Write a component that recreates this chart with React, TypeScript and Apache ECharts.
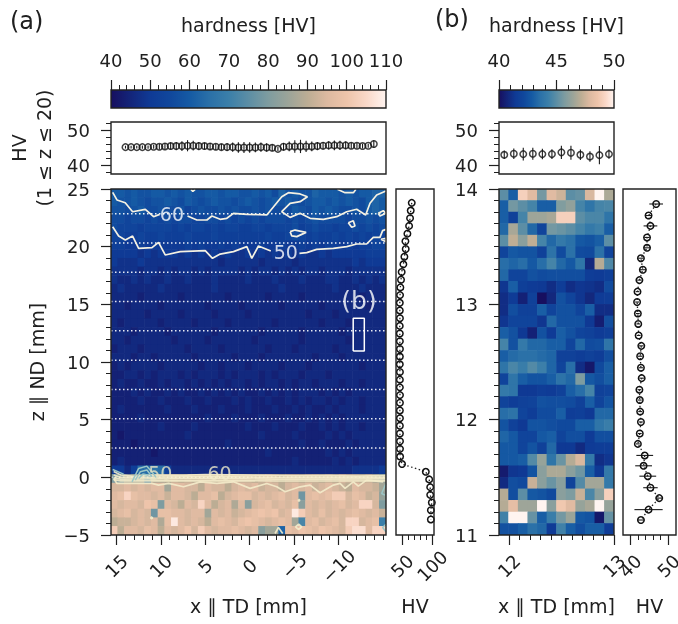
import React, { useEffect, useRef } from "react";
import * as echarts from "echarts";

const INK = "#202020";
const FONT = "DejaVu Sans";
// Evenly spaced along the colour scale.
const COLORS = ["#170f5f", "#13257a", "#0f3a95", "#10479c", "#155aa4", "#2a70a8", "#3b7fa9", "#5c8ea5", "#7e9ca0", "#9ba499", "#bcad94", "#dcb9a0", "#eec4aa", "#fad8c8", "#fff4f0"];

// Panel (a) hardness map: one character per cell, base 36, HV = 40 + 2 * digit. Top row first.
const mapRowsA = [
  "aa9a99aa9a 9a99aa9aa9 9a9a8b9a99 baaa9a9aab b",
  "a99a9899a9 8a989a9989 a989a9a989 aa9a9a98ab a",
  "9989a88988 9789889898 8989888a98 a9a98898ab a",
  "8878878787 8877887878 7878887878 9888878898 9",
  "8777677776 7677676776 6776777867 8776778787 8",
  "7766766766 6766676666 6667667876 7667676767 7",
  "6655656555 5656556565 5565565565 6566565667 7",
  "5555454555 4545454544 5454545454 4545555566 6",
  "5444544444 4444443444 4434444344 4444445455 5",
  "4444344343 4434344443 4344343434 4344434444 4",
  "4334343343 3433343333 4333433343 3344334343 4",
  "3433333433 3333343333 3333343333 3334333433 3",
  "3333233333 2333333233 3332333323 3333333233 3",
  "3323333233 3333233332 3333323333 3233333323 3",
  "3333323333 2333323333 2333333332 3332333333 3",
  "3233333233 3323333233 3333233333 3233323333 3",
  "3332333323 3333323333 3323333323 3333233333 3",
  "3323333332 3333233333 3233333323 3333323333 3",
  "2333233333 3233332333 3332333233 3332333333 3",
  "3332332333 3323333323 3323333333 2333233333 3",
  "2323333233 3332332333 2333323332 3333333233 3",
  "2233232333 2323332323 3323233323 3323333333 3",
  "2322322323 3232323233 2323323233 2333233233 3",
  "2223232232 3223232323 2232323233 3232323333 3",
  "2222322322 2322322232 3223223232 3323233233 3",
  "2322222232 2232223222 3222322323 2232333233 3",
  "2222322222 2222322232 2232223223 2323233333 3",
  "2222222322 2232222222 3222322232 2323233233 3",
  "2122222222 2322222222 2232222322 2232323333 3",
  "2221222222 2222222322 2222222232 2322232333 3",
  "2222221222 2222222222 2223222222 2232323333 3",
  "2322222222 2222222222 2222222322 2223232333 3",
  "5536ccdc63 3333333333 3333333333 3333334444 5",
  "kknnngoopq pqpqqpqqrq qpqrqpqqpq qpqprqqpqo m",
  "rrsrsrssns srrpsrrprs rsqrrprsrs qrsrqpsrrq n",
  "stwtssrsqs srpsstprst trsrstrsjs tstvvrtsqr m",
  "srssrutksr psrwsprsos lrstrsrtls rsrstrswwr k",
  "rstrsrjtts srssnsrsqr stutursyvs rtrsrstsrs q",
  "pqqrsrsoty srsrpstsrt utsrstsngs trstrwwrst f",
  "vpssrtspsr survsrssts rslnnbtsut sutsrvxxsw w",
];

// Panel (b) hardness map, top row first.
const mapRowsB = [
  [45, 43, 49, 48, 45.5, 48, 47.5, 45, 45.2, 47.8, 50, 46.8],
  [43, 45.5, 45, 44.5, 43, 43, 45.8, 46.2, 44.5, 43.8, 44.5, 44.6],
  [43, 41.8, 44.5, 46.5, 46.5, 46.7, 49, 49, 45, 44.6, 44.6, 43.8],
  [43.3, 46.7, 45, 43.3, 42, 45.5, 45.3, 45, 44.5, 44, 44.3, 43],
  [45, 47.2, 46, 47.2, 44.5, 43.3, 44, 43.6, 42.8, 42.6, 43, 45],
  [42, 42.8, 42.6, 42.6, 41.8, 43.7, 42.3, 43.6, 42.3, 42.2, 43.6, 42],
  [43.5, 43.2, 43.5, 42.8, 43.5, 44.5, 43.3, 42.8, 43.8, 40.8, 47, 44.7],
  [43.3, 42, 42, 42.5, 42.3, 42.4, 42.4, 42.4, 42.4, 41.6, 41.5, 41.7],
  [41.3, 43, 41.7, 41.5, 41.4, 41, 41.6, 41, 41.3, 41.2, 41, 42.3],
  [41, 41.5, 40.6, 41.8, 40, 40.8, 42.5, 42, 41.3, 40.8, 41.5, 41.6],
  [41, 42.4, 41.8, 41.8, 43, 42, 42.5, 42.5, 42, 43, 41, 41],
  [41.3, 42, 42, 42, 41.3, 43.3, 42.5, 42.5, 42.5, 41.4, 40.5, 42.4],
  [43, 42.5, 41.4, 40.6, 42.5, 41.5, 43, 42.5, 42, 41.8, 41.5, 41.7],
  [44.5, 42.5, 44, 43.3, 43.3, 43, 43, 42, 43.3, 42.3, 42.4, 43.8],
  [43, 43.4, 43.6, 43.6, 43.4, 43.2, 41.8, 41.8, 41.6, 41.8, 41.6, 42.4],
  [43.8, 44.6, 44.2, 44.8, 44.3, 43.2, 42, 43.5, 41, 40.3, 42.2, 43],
  [42, 43.8, 43, 42.6, 42.6, 43, 43.7, 43.3, 45.7, 42.8, 42.4, 43],
  [44, 43.8, 41.4, 41.4, 41.6, 41.5, 41.8, 43, 43.5, 44.5, 41.8, 42],
  [41.9, 41.6, 41.8, 41.9, 42.5, 42.4, 42.4, 42.3, 41.8, 43, 41.9, 42.6],
  [43.5, 43.7, 42, 41.6, 42.3, 42.3, 43, 41.6, 41.7, 41.4, 43.3, 43.3],
  [42.6, 41.8, 41.4, 42.6, 42.6, 42.4, 42.2, 42.2, 43, 43, 43.8, 44.2],
  [43.2, 42.8, 42, 42, 42.8, 43, 41.9, 42.4, 42.4, 41.5, 42.4, 42.4],
  [42.8, 42.8, 42, 42.6, 41.8, 43.3, 41.4, 41.4, 40.9, 41.5, 41.6, 41.6],
  [42.8, 42.8, 43, 44.8, 46.3, 43.8, 45.3, 47, 47.8, 44, 41, 41.3],
  [40.4, 41.3, 41.4, 42.6, 46, 46.8, 46.8, 46, 45.4, 43, 41.4, 44],
  [40.9, 42.4, 42.2, 47.4, 46, 45.3, 46, 41.9, 44.8, 46.6, 46.6, 44],
  [47, 42.4, 45, 42.8, 42.6, 42.2, 46, 45.7, 47.4, 44.6, 46, 49],
  [47, 48.2, 46.5, 46.5, 50, 46, 48.7, 48, 46.3, 46.7, 50, 46.3],
  [44.4, 50, 50, 45.2, 43, 44.2, 45.5, 46.4, 42.8, 42.6, 40.3, 45.2],
  [42.5, 42.5, 43, 43.6, 43.3, 41.5, 44.4, 43, 42.4, 43, 43, 41.6],
];

// Mean hardness over 1 <= z <= 20, panel (a)
const stripAx = [13.97, 13.34, 12.7, 12.07, 11.43, 10.8, 10.16, 9.53, 8.89, 8.26, 7.62, 6.99, 6.35, 5.72, 5.08, 4.45, 3.81, 3.18, 2.54, 1.91, 1.27, 0.64, 0, -0.64, -1.27, -1.91, -2.54, -3.18, -3.81, -4.45, -5.08, -5.72, -6.35, -6.99, -7.62, -8.26, -8.89, -9.53, -10.16, -10.8, -11.43, -12.07, -12.7, -13.34, -13.97];
const stripAhv = [45.3, 45.3, 45.3, 45.3, 45.3, 45.4, 45.4, 45.5, 45.6, 45.6, 45.6, 45.7, 45.7, 45.6, 45.6, 45.5, 45.4, 45.3, 45.3, 45.3, 45.2, 45.2, 45.2, 45.2, 45.3, 45.2, 45.1, 44.8, 45.4, 45.5, 45.5, 45.5, 45.5, 45.5, 45.6, 45.7, 45.8, 45.8, 45.8, 45.8, 45.7, 45.7, 45.6, 45.7, 46.2];
const stripAerr = [0.4, 0.4, 0.4, 0.5, 0.5, 0.6, 0.8, 0.9, 1, 1.2, 1.4, 1.6, 1.4, 1.2, 1, 1, 0.9, 0.9, 1.1, 1.3, 1.5, 1.6, 1.5, 1.4, 1.3, 1.2, 1, 0.6, 1.1, 1.4, 1.8, 1.9, 1.6, 1.4, 1.2, 1.1, 1.2, 1.4, 1.3, 1.1, 0.9, 0.8, 0.7, 0.6, 1.1];

// Mean hardness, panel (b)
const stripBx = [11.955, 12.046, 12.136, 12.227, 12.318, 12.409, 12.499, 12.59, 12.68, 12.771, 12.861, 12.952];
const stripBhv = [43.1, 43.4, 43.3, 43.4, 43.3, 43.3, 43.8, 43.7, 43.1, 42.6, 43, 43.3];
const stripBerr = [1.2, 1.5, 1.8, 1.7, 1.5, 1.4, 1.9, 2, 1.5, 1.5, 2.6, 1.3];

// Depth profiles
const sideAz = [23.8, 23.13, 22.47, 21.8, 21.13, 20.47, 19.8, 19.13, 18.47, 17.8, 17.13, 16.47, 15.8, 15.13, 14.47, 13.8, 13.13, 12.47, 11.8, 11.13, 10.47, 9.8, 9.13, 8.47, 7.8, 7.13, 6.47, 5.8, 5.13, 4.47, 3.8, 3.13, 2.47, 1.8, 1.15, 0.48, -0.18, -0.85, -1.52, -2.18, -2.85, -3.65];
const sideAhv = [66.1, 64.4, 63.3, 61.7, 58.9, 55.6, 56.1, 53.9, 52.2, 49.4, 48.3, 47.2, 46.7, 46.3, 46.3, 46.5, 46.2, 46.3, 46.4, 46.5, 46.4, 46.3, 46.5, 46.4, 46.4, 46.6, 46.5, 46.4, 46.5, 46.4, 46.5, 46.6, 46.6, 46.8, 50, 89.4, 95, 96.7, 96.7, 99.4, 97.8, 97.8];
const sideBz = [13.87, 13.77, 13.68, 13.58, 13.49, 13.4, 13.3, 13.21, 13.11, 13.02, 12.92, 12.83, 12.73, 12.64, 12.55, 12.45, 12.36, 12.26, 12.17, 12.07, 11.98, 11.88, 11.79, 11.69, 11.6, 11.51, 11.41, 11.32, 11.22, 11.13];
const sideBhv = [46.8, 44.8, 45.3, 44.4, 44.4, 42.8, 43.3, 42.4, 41.9, 41.8, 42, 42.1, 42.2, 42.9, 42.6, 42.8, 43, 42.4, 42.5, 42.6, 42.8, 42.5, 42, 43.8, 43.5, 44.6, 45.3, 47.6, 44.8, 42.8];
const sideBerr = [1.8, 0.7, 1.8, 0.7, 0.8, 0.7, 0.9, 0.6, 0.5, 0.5, 0.5, 0.5, 0.5, 0.6, 0.6, 0.6, 0.6, 0.5, 0.5, 0.5, 0.5, 0.5, 0.5, 2.2, 2.2, 2.2, 1.9, 0.9, 3.7, 0.9];

// Contours of panel (a), [x mm, z mm]
const contoursUpper = [
  [[15.41, 24.71], [14.93, 24.05], [14, 23.81], [13.17, 23.03], [11.74, 23.24], [10.81, 22.6], [10.13, 22.8]],
  [[6.99, 22.66], [5.94, 22.31], [4.81, 22.31], [4.25, 22.66], [3.32, 22.37], [2.57, 22.46], [1.82, 22.89], [0.32, 22.8], [-1.93, 22.75], [-3.61, 24.33], [-4.36, 24.68], [-5.67, 24.57], [-6.5, 24.33], [-5.67, 23.9], [-4.55, 23.76], [-3.61, 23.03], [-4.55, 22.54], [-5.67, 22.89], [-6.8, 22.46], [-8.29, 22.37], [-9.79, 22.6], [-10.92, 23.03], [-12.04, 23.24], [-13.05, 22.75], [-13.54, 23.76], [-14.29, 24.48], [-15.33, 24.83]],
  [[6.61, 24.97], [6.39, 24.8], [6.13, 24.97]],
  [[-9.87, 24.97], [-10.73, 24.68], [-11.67, 24.68], [-11.96, 24.97]],
  [[-14.47, 22.89], [-15.03, 23.12], [-15.33, 22.89], [-14.66, 22.66], [-14.47, 22.89]],
  [[-11.1, 22.08], [-11.66, 22.25], [-11.85, 21.79], [-11.48, 21.68], [-11.1, 22.08]],
  [[-4.55, 21.3], [-5.11, 21.44], [-6.35, 21.24], [-5.3, 20.87], [-4.74, 20.93], [-4.55, 21.3]],
  [[15.41, 21.73], [14.74, 20.92], [13.99, 20.58], [13.17, 20.92], [12.49, 19.86], [10.99, 19.91], [10.25, 20.38], [9.5, 19.28], [7.81, 19.57], [5, 19.65], [4.18, 18.99], [3.32, 19.36], [1.82, 19.57], [0.32, 20], [-0.24, 18.99], [-0.99, 20.06], [-2.38, 19.62]],
  [[-5.6, 19.42], [-6.42, 19.48], [-7.54, 19.77], [-9.42, 19.86], [-10.92, 20], [-12.04, 20.23], [-13.16, 20.23], [-13.91, 20.81], [-14.66, 20.81], [-14.96, 21.39], [-15.33, 21.5]],
  [[-14.77, 20.64], [-15.33, 20.72], [-15.33, 20.43], [-14.77, 20.64]],
];
const contoursInterface = [
  [[15.3, -0.1], [14.93, -0.53], [13.05, -0.53], [11, -0.53], [10.25, -0.67], [9.12, -0.53], [7.44, -0.82], [5.56, -0.39], [3.69, -0.53], [1.82, -0.39], [-0.05, -0.96], [-1.93, -0.53], [-3.05, -0.82], [-3.99, -1.25], [-5.67, -0.82], [-6.8, -0.67], [-7.92, -1.34], [-9.42, -0.67], [-10.17, -0.53], [-10.73, -0.96], [-11.66, -0.39], [-12.23, -0.76], [-13.16, -0.24], [-15.03, -0.39]],
  [[15.3, 0.5], [14.5, 0.2], [13, 0.08], [11, 0.2], [9, 0.18], [7, 0.2], [5, 0.24], [2, 0.22], [-1, 0.18], [-5, 0.12], [-9, 0.14], [-12, 0.1], [-15.3, 0.15]],
  [[15.3, 0.2], [14.5, 0], [11, 0.02], [7, 0.04], [2, 0.04], [-3, 0], [-8, -0.02], [-15.3, 0]],
  [[15.3, -0.05], [14.5, -0.16], [11, -0.14], [7, -0.12], [2, -0.12], [-3, -0.16], [-8, -0.16], [-15.3, -0.14]],
  [[15.3, -0.2], [14.5, -0.3], [11, -0.3], [7, -0.3], [2, -0.28], [-3, -0.32], [-8, -0.32], [-15.3, -0.3]],
  [[-2.86, -4.87], [-3.24, -4.35], [-3.72, -4.87]],
  [[-5.15, -4.29], [-5.52, -4.06], [-5.86, -4.29], [-5.52, -4.52], [-5.15, -4.29]],
  [[-5.5, -1.9], [-5.65, -2], [-5.5, -2.08], [-5.5, -1.9]],
  [[11.1, -3.42], [10.9, -3.52], [11.1, -3.6], [11.1, -3.42]],
];
const contoursTeal = [
  [[13.24, -0.39], [12.49, 0.77], [11.56, 0.97], [10.81, 0.28], [10.43, -0.1]],
  [[12.87, -0.24], [12.31, 0.48], [11.56, 0.63], [10.99, 0.05]],
  [[12.49, -0.1], [12.01, 0.28], [11.37, 0.19]],
  [[15.41, 0.68], [14.18, 0.28]],
  [[-15.33, -0.53], [-14.85, -1.4], [-15.22, -1.54]],
  [[-15.33, -4.06], [-14.96, -4.35], [-15.33, -4.72]],
];
const scanLinesZ = [22.86, 20.32, 17.78, 15.24, 12.7, 10.16, 7.62, 5.08, 2.54, 0];
const regionB = [[-11.65, 10.95], [-12.9, 10.95], [-12.9, 13.8], [-11.65, 13.8], [-11.65, 10.95]];

// Ticks
const cbATicks = [40, 50, 60, 70, 80, 90, 100, 110];
const cbAMinor = [42, 44, 46, 48, 52, 54, 56, 58, 62, 64, 66, 68, 72, 74, 76, 78, 82, 84, 86, 88, 92, 94, 96, 98, 102, 104, 106, 108];
const cbBTicks = [40, 45, 50];
const cbBMinor = [41, 42, 43, 44, 46, 47, 48, 49];
const stripTicks = [40, 50];
const stripMinor = [38, 42, 44, 46, 48, 52];
const xATicks = [15, 10, 5, 0, -5, -10];
const xAMinor = [14, 13, 12, 11, 9, 8, 7, 6, 4, 3, 2, 1, -1, -2, -3, -4, -6, -7, -8, -9, -11, -12, -13, -14, -15];
const zATicks = [-5, 0, 5, 10, 15, 20, 25];
const zAMinor = [-4, -3, -2, -1, 1, 2, 3, 4, 6, 7, 8, 9, 11, 12, 13, 14, 16, 17, 18, 19, 21, 22, 23, 24];
const sideATicks = [50, 100];
const sideAMinor = [60, 70, 80, 90];
const xBTicks = [12, 13];
const xBMinor = [12.1, 12.2, 12.3, 12.4, 12.5, 12.6, 12.7, 12.8, 12.9];
const zBTicks = [11, 12, 13, 14];
const zBMinor = [11.1, 11.2, 11.3, 11.4, 11.5, 11.6, 11.7, 11.8, 11.9, 12.1, 12.2, 12.3, 12.4, 12.5, 12.6, 12.7, 12.8, 12.9, 13.1, 13.2, 13.3, 13.4, 13.5, 13.6, 13.7, 13.8, 13.9];
const sideBTicks = [40, 50];
const sideBMinor = [42, 44, 46, 48];

const fmt = (v: number) => String(v).replace("-", "\u2212");

function buildOption() {
  const grid: any[] = [];
  const xAxis: any[] = [];
  const yAxis: any[] = [];
  const series: any[] = [];
  const visualMap: any[] = [];

  const textStyle = (size = 18) => ({ color: INK, fontFamily: FONT, fontSize: size });

  function axisPair(list: any[], cfg: any, gridIndex: number) {
    const base = {
      gridIndex,
      type: "value",
      min: cfg.min,
      max: cfg.max,
      inverse: !!cfg.inverse,
      position: cfg.position,
      splitLine: { show: false },
      axisLine: { show: false, onZero: false },
    };
    const index = list.length;
    list.push({
      ...base,
      name: cfg.name,
      nameLocation: "middle",
      nameGap: cfg.nameGap,
      nameRotate: cfg.nameRotate,
      nameTextStyle: { ...textStyle(cfg.nameSize || 19), lineHeight: 25 },
      axisTick: cfg.ticks
        ? { show: true, customValues: cfg.ticks, length: cfg.tickLen ?? 10, lineStyle: { color: INK, width: 1.2 } }
        : { show: false },
      axisLabel: cfg.ticks && !cfg.noLabel
        ? {
            show: true,
            customValues: cfg.ticks,
            formatter: fmt,
            margin: cfg.margin ?? 21,
            rotate: cfg.rotate || 0,
            ...(cfg.rotate ? { align: "center", verticalAlign: "middle" } : {}),
            ...textStyle(18),
          }
        : { show: false },
    });
    if (cfg.minor) {
      list.push({
        ...base,
        axisTick: { show: true, customValues: cfg.minor, length: 5, lineStyle: { color: INK, width: 1 } },
        axisLabel: { show: false },
      });
    }
    return index;
  }

  function panel(box: number[], xCfg: any, yCfg: any) {
    const gridIndex = grid.length;
    grid.push({ left: box[0], top: box[1], width: box[2] - box[0], height: box[3] - box[1], show: false, outerBoundsMode: "none" });
    const xi = axisPair(xAxis, { position: "bottom", ...xCfg }, gridIndex);
    const yi = axisPair(yAxis, { position: "left", ...yCfg }, gridIndex);
    return { xAxisIndex: xi, yAxisIndex: yi };
  }

  function frame(ax: any) {
    series.push({
      type: "custom",
      ...ax,
      z: 20,
      silent: true,
      clip: false,
      data: [[0, 0]],
      renderItem: (params: any) => ({
        type: "rect",
        shape: { x: params.coordSys.x, y: params.coordSys.y, width: params.coordSys.width, height: params.coordSys.height },
        style: { fill: "none", stroke: "#222222", lineWidth: 1.4 },
      }),
    });
  }

  function colorbar(ax: any, lo: number, hi: number) {
    const gradient = new echarts.graphic.LinearGradient(0, 0, 1, 0, COLORS.map((color, i) => ({ offset: i / (COLORS.length - 1), color })));
    series.push({
      type: "custom",
      ...ax,
      silent: true,
      data: [[lo, 0, hi, 1]],
      renderItem: (_: any, api: any) => {
        const a = api.coord([api.value(0), api.value(1)]);
        const b = api.coord([api.value(2), api.value(3)]);
        return {
          type: "rect",
          shape: { x: a[0], y: b[1], width: b[0] - a[0], height: a[1] - b[1] },
          style: { fill: gradient },
        };
      },
    });
    frame(ax);
  }

  function cells(ax: any, data: number[][], dx: number, dz: number, lo: number, hi: number) {
    series.push({
      type: "custom",
      ...ax,
      silent: true,
      clip: true,
      data,
      renderItem: (_: any, api: any) => {
        const a = api.coord([api.value(0) - dx / 2, api.value(1) + dz / 2]);
        const b = api.coord([api.value(0) + dx / 2, api.value(1) - dz / 2]);
        return {
          type: "rect",
          shape: {
            x: Math.min(a[0], b[0]) - 0.3,
            y: a[1] - 0.3,
            width: Math.abs(b[0] - a[0]) + 0.6,
            height: b[1] - a[1] + 0.6,
          },
          style: { fill: api.visual("color") },
        };
      },
    });
    visualMap.push({
      type: "continuous",
      show: false,
      min: lo,
      max: hi,
      dimension: 2,
      seriesIndex: series.length - 1,
      inRange: { color: COLORS },
    });
  }

  function errorBars(ax: any, data: number[][], horizontal: boolean) {
    series.push({
      type: "custom",
      ...ax,
      silent: true,
      z: 4,
      data,
      renderItem: (_: any, api: any) => {
        const x = api.value(0), y = api.value(1), e = api.value(2);
        const a = horizontal ? api.coord([x - e, y]) : api.coord([x, y - e]);
        const b = horizontal ? api.coord([x + e, y]) : api.coord([x, y + e]);
        return {
          type: "line",
          shape: { x1: a[0], y1: a[1], x2: b[0], y2: b[1] },
          style: { stroke: "#1a1a1a", lineWidth: 1.1 },
        };
      },
    });
  }

  function markers(ax: any, data: number[][], joined: boolean) {
    series.push({
      type: joined ? "line" : "scatter",
      ...ax,
      z: 5,
      silent: true,
      data,
      symbol: "circle",
      symbolSize: 6.5,
      itemStyle: { color: "rgba(255,255,255,0)", borderColor: "#111111", borderWidth: 1.5 },
      ...(joined ? { showSymbol: true, lineStyle: { color: "#222222", width: 1.3, type: [1.5, 2.5] } } : {}),
    });
  }

  function polyline(ax: any, data: number[][], color: string, width: number, type: any = "solid", z = 6) {
    series.push({
      type: "line",
      ...ax,
      z,
      silent: true,
      data,
      symbol: "none",
      clip: true,
      lineStyle: { color, width, type },
    });
  }

  function label(ax: any, at: number[], text: string, size: number, color: string) {
    series.push({
      type: "scatter",
      ...ax,
      z: 7,
      silent: true,
      data: [at],
      symbolSize: 1,
      itemStyle: { color: "rgba(0,0,0,0)" },
      label: { show: true, position: "inside", formatter: text, color, fontFamily: FONT, fontSize: size },
    });
  }

  // Panel (a)
  const cbA = panel([111, 90, 386, 108],
    { min: 40, max: 110, position: "top", ticks: cbATicks, minor: cbAMinor, margin: 21, name: "hardness [HV]", nameGap: 53 },
    { min: 0, max: 1 });
  colorbar(cbA, 40, 110);

  const xRangeA = { min: -15.34, max: 15.6, inverse: true };
  const stripA = panel([111, 122, 386, 174], xRangeA,
    { min: 37.6, max: 52.5, ticks: stripTicks, minor: stripMinor, name: "HV\n(1 \u2264 z \u2264 20)", nameRotate: 90, nameGap: 55 });
  errorBars(stripA, stripAx.map((x, i) => [x, stripAhv[i], stripAerr[i]]), false);
  markers(stripA, stripAx.map((x, i) => [x, stripAhv[i]]), false);
  frame(stripA);

  const heatA = panel([111, 189, 386, 535],
    { ...xRangeA, ticks: xATicks, minor: xAMinor, rotate: 45, margin: 31, name: "x \u2225 TD [mm]", nameGap: 58 },
    { min: -5, max: 25, ticks: zATicks, minor: zAMinor, name: "z \u2225 ND [mm]", nameRotate: 90, nameGap: 62 });
  const dxA = 30.94 / 41;
  const dzA = 0.75;
  const dataA: number[][] = [];
  mapRowsA.forEach((row, r) => {
    row.replace(/ /g, "").split("").forEach((ch, c) => {
      dataA.push([15.6 - dxA * (c + 0.5), 25 - dzA * (r + 0.5), 40 + 2 * parseInt(ch, 36)]);
    });
  });
  cells(heatA, dataA, dxA, dzA, 40, 110);
  scanLinesZ.forEach((z) => polyline(heatA, [[15.6, z], [-15.34, z]], "rgba(255,255,255,0.9)", 1.5, [1.5, 2.5], 5));
  contoursUpper.forEach((c) => polyline(heatA, c, "#f4f1e2", 1.7));
  contoursInterface.forEach((c) => polyline(heatA, c, "rgba(244,236,203,0.9)", 1.7));
  contoursTeal.forEach((c) => polyline(heatA, c, "#9cc6c6", 1.5));
  label(heatA, [8.75, 22.83], "60", 19, "#ffffff");
  label(heatA, [-4.06, 19.57], "50", 19, "#ffffff");
  label(heatA, [10.06, 0.34], "50", 19, "#e8e4c4");
  label(heatA, [3.39, 0.35], "60", 19, "#f4eccb");
  polyline(heatA, regionB, "#ffffff", 1.5);
  label(heatA, [-12.3, 15.3], "(b)", 25, "#ffffff");
  frame(heatA);

  const sideA = panel([396, 189, 434, 535],
    { min: 40, max: 103, ticks: sideATicks, minor: sideAMinor, rotate: 45, margin: 31, name: "HV", nameGap: 58 },
    { min: -5, max: 25 });
  markers(sideA, sideAz.map((z, i) => [sideAhv[i], z]), true);
  frame(sideA);

  // Panel (b)
  const cbB = panel([499, 90, 614, 108],
    { min: 40, max: 50, position: "top", ticks: cbBTicks, minor: cbBMinor, margin: 21, name: "hardness [HV]", nameGap: 53 },
    { min: 0, max: 1 });
  colorbar(cbB, 40, 50);

  const xRangeB = { min: 11.905, max: 13 };
  const stripB = panel([499, 122, 614, 174], xRangeB,
    { min: 37.6, max: 52.5, ticks: stripTicks, minor: stripMinor });
  errorBars(stripB, stripBx.map((x, i) => [x, stripBhv[i], stripBerr[i]]), false);
  markers(stripB, stripBx.map((x, i) => [x, stripBhv[i]]), false);
  frame(stripB);

  const heatB = panel([499, 189, 614, 535],
    { ...xRangeB, ticks: xBTicks, minor: xBMinor, rotate: 45, margin: 31, name: "x \u2225 TD [mm]", nameGap: 58 },
    { min: 11, max: 14, ticks: zBTicks, minor: zBMinor });
  const dxB = 1.095 / 12;
  const dataB: number[][] = [];
  mapRowsB.forEach((row, r) => {
    row.forEach((hv, c) => dataB.push([11.905 + dxB * (c + 0.5), 14 - 0.1 * (r + 0.5), hv]));
  });
  cells(heatB, dataB, dxB, 0.1, 40, 50);
  frame(heatB);

  const sideB = panel([623, 189, 676, 535],
    { min: 38.1, max: 52, ticks: sideBTicks, minor: sideBMinor, rotate: 45, margin: 31, name: "HV", nameGap: 58 },
    { min: 11, max: 14 });
  errorBars(sideB, sideBz.map((z, i) => [sideBhv[i], z, sideBerr[i]]), true);
  markers(sideB, sideBz.map((z, i) => [sideBhv[i], z]), true);
  frame(sideB);

  return {
    animation: false,
    backgroundColor: "#ffffff",
    grid,
    xAxis,
    yAxis,
    visualMap,
    series,
    graphic: [
      { type: "text", left: 10, top: 9, style: { text: "(a)", fontFamily: FONT, fontSize: 24, fill: INK } },
      { type: "text", left: 435, top: 7, style: { text: "(b)", fontFamily: FONT, fontSize: 24, fill: INK } },
    ],
  };
}

export default function App() {
  const ref = useRef<HTMLDivElement>(null);
  useEffect(() => {
    const chart = echarts.init(ref.current!, null, { renderer: "svg", width: 678, height: 624 });
    chart.setOption(buildOption() as any);
    return () => chart.dispose();
  }, []);
  return (
    <div
      ref={ref}
      style={{ position: "absolute", left: 0, top: 0, width: 678, height: 624, filter: "blur(0.4px)" }}
    />
  );
}
